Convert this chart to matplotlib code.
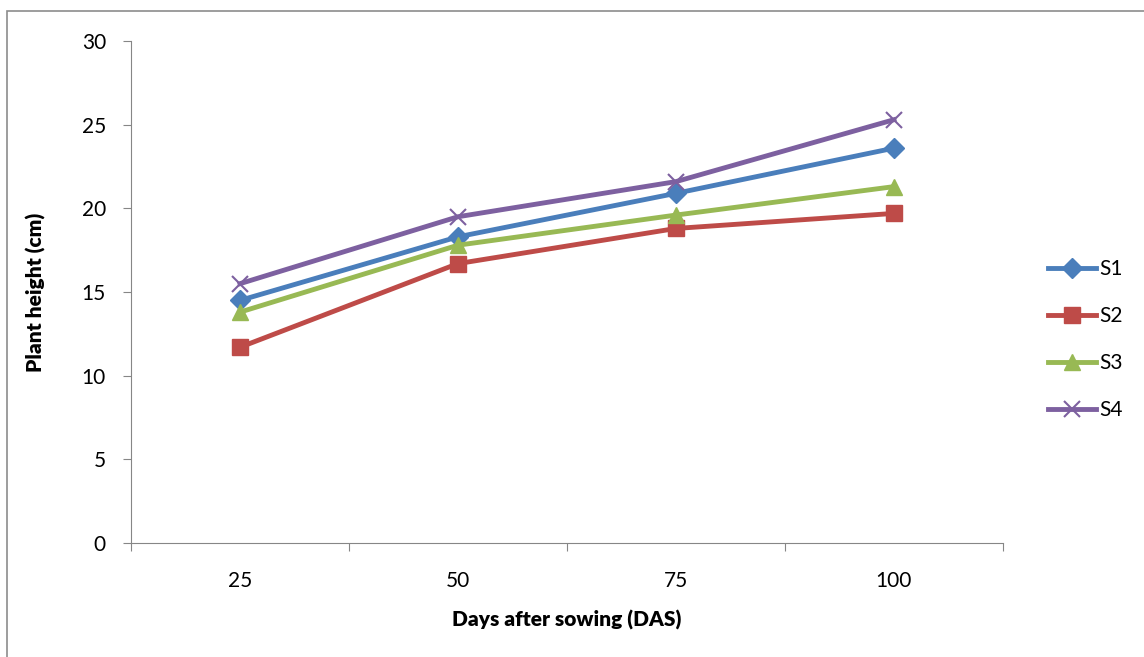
import matplotlib.pyplot as plt
from matplotlib.patches import Rectangle

days = ['25', '50', '75', '100']
s1 = [14.5, 18.3, 20.9, 23.6]
s2 = [11.7, 16.7, 18.8, 19.7]
s3 = [13.8, 17.8, 19.6, 21.3]
s4 = [15.5, 19.5, 21.6, 25.3]

plt.rcParams['font.family'] = ['Lato', 'DejaVu Sans']

fig = plt.figure(figsize=(11.44, 6.57), dpi=100)
ax = fig.add_axes([0.1145, 0.1735, 0.7622, 0.764])

# outer chart frame
fig.patches.append(Rectangle((0.006, -0.1), 1.2, 0.1 + 0.983, transform=fig.transFigure,
                             fill=False, edgecolor='#8c8c8c', linewidth=1.2))

x = range(1, len(days) + 1)
ax.plot(x, s1, color='#4A7EBB', lw=3.5, marker='D', ms=10, label='S1')
ax.plot(x, s2, color='#BE4B48', lw=3.5, marker='s', ms=11, label='S2')
ax.plot(x, s3, color='#98B954', lw=3.5, marker='^', ms=12, label='S3')
ax.plot(x, s4, color='#7D60A0', lw=3.5, marker='x', ms=12, mew=1.5, label='S4')

ax.set_xlim(0.5, len(days) + 0.5)
ax.set_ylim(0, 30)
ax.set_yticks(range(0, 31, 5))

# tick marks between categories, labels at centers
ax.set_xticks([i + 0.5 for i in range(len(days) + 1)])
ax.set_xticklabels([])
ax.set_xticks(list(x), minor=True)
ax.set_xticklabels(days, minor=True)
ax.tick_params(axis='x', which='minor', length=0, pad=20, labelsize=15)
ax.tick_params(axis='x', which='major', length=6, color='#868686')
ax.tick_params(axis='y', length=6, color='#868686', labelsize=15, pad=12)

for side in ['top', 'right']:
    ax.spines[side].set_visible(False)
for side in ['left', 'bottom']:
    ax.spines[side].set_color('#868686')

ax.set_xlabel('Days after sowing (DAS)', fontsize=15, fontweight='heavy', labelpad=14)
ax.set_ylabel('Plant height (cm)', fontsize=15, fontweight='heavy', labelpad=26)

ax.legend(loc='center left', bbox_to_anchor=(1.03, 0.405), frameon=False, fontsize=15,
          handlelength=2.3, labelspacing=1.3, handletextpad=0.15)

fig.savefig('out.png', dpi=100)
